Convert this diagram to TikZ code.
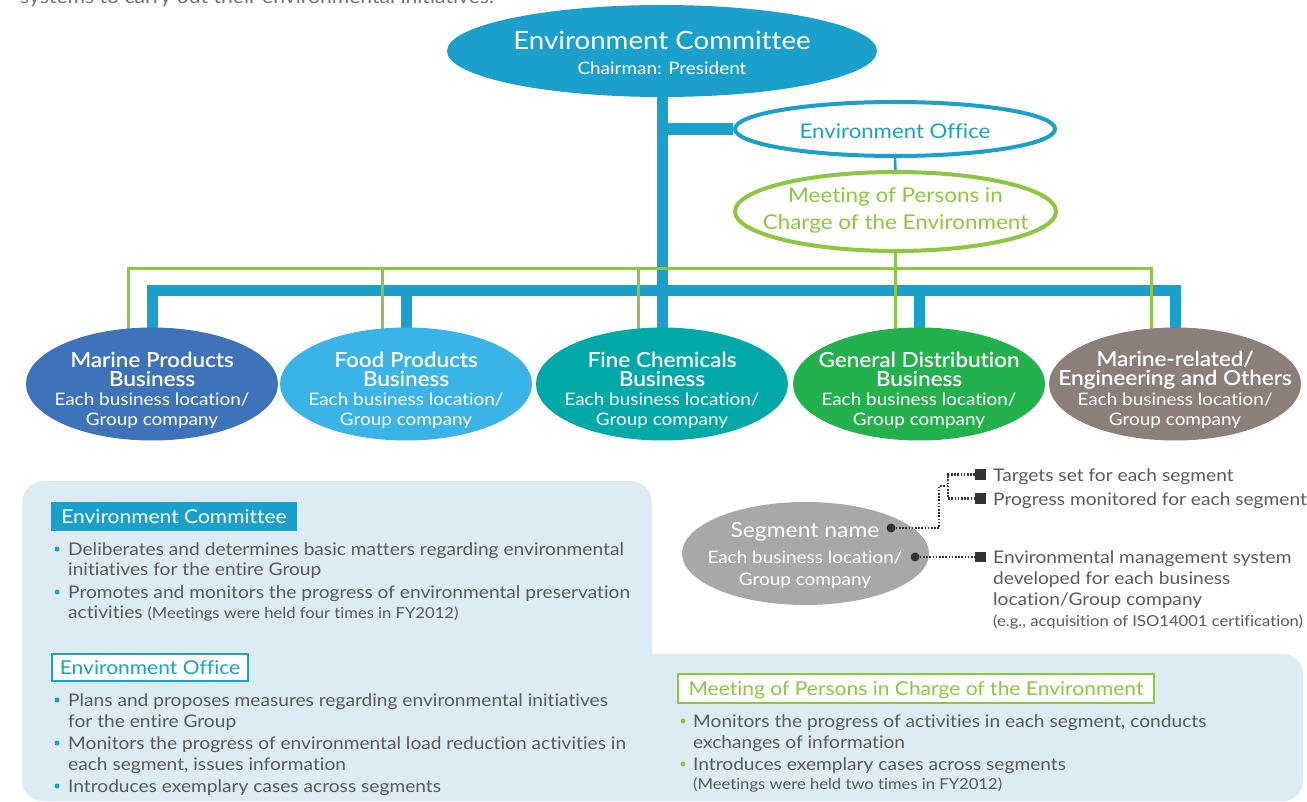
\documentclass[tikz,border=0pt]{standalone}
\usepackage{fontspec}
\setmainfont{Lato}[FakeStretch=1.1, Ligatures=NoCommon]
\newfontfamily\titlefont{Lato}[FakeStretch=1.1, FakeBold=0.6, Ligatures=NoCommon]
\usetikzlibrary{shapes.geometric}
\pgfdeclarelayer{bg}
\pgfsetlayers{bg,main}
\definecolor{cblue}{HTML}{1BA0CB}
\definecolor{cgreen}{HTML}{8DC63F}
\definecolor{cmarine}{HTML}{3F73B9}
\definecolor{cfood}{HTML}{3AB3E6}
\definecolor{cfine}{HTML}{00A9A7}
\definecolor{cgen}{HTML}{23B14D}
\definecolor{cmrel}{HTML}{8C7E79}
\definecolor{cseg}{HTML}{A7A8AA}
\definecolor{cpanel}{HTML}{DDEBF4}
\definecolor{ctxt}{HTML}{58595B}
\definecolor{cdot}{HTML}{333333}
\tikzset{
  fs/.style={font=\fontsize{#1}{#1}\selectfont},
  ln/.style={inner sep=0pt, text height=#1, text depth=0pt},
  biz/.style={ellipse, inner sep=0pt, minimum width=252pt, minimum height=113pt},
  bt/.style={ln=15.8pt, font=\titlefont\fontsize{20.5}{20.5}\selectfont, text=white},
  bs/.style={ln=13.4pt, fs=17.2, text=white},
  bbar/.style={cblue, line width=11pt, line join=miter},
  gline/.style={cgreen, line width=3pt, line join=miter},
  body/.style={ln=12.4pt, anchor=west, fs=17.4, text=ctxt},
  small/.style={ln=11pt, anchor=west, fs=15.1, text=ctxt},
  bul/.style={circle, inner sep=0pt, minimum size=5pt, fill=#1},
  hdr/.style={inner sep=0pt, minimum height=29pt, fs=19.1, text height=14.2pt, text depth=0pt},
  sqr/.style={rectangle, inner sep=0pt, minimum size=10.5pt, fill=cdot},
  ddot/.style={circle, inner sep=0pt, minimum size=9pt, fill=cdot},
  dotline/.style={cdot, line width=2.2pt, dash pattern=on 1.6pt off 1.6pt},
}
\begin{document}
\begin{tikzpicture}[x=1pt,y=-1pt]
\useasboundingbox (0,0) rectangle (1307,802);
% cut-off top line
\node[inner sep=0pt, fs=19.2, text=ctxt!85, anchor=base west] (toptext) at (20,4) {systems to carry out their environmental initiatives.};

% panel
\fill[cpanel, rounded corners=22pt] (22,481) rectangle (652,801);
\fill[cpanel, rounded corners=20pt] (22,654) rectangle (1303,801);

% top ellipses
\node[ellipse, fill=cblue, inner sep=0pt, minimum width=430pt, minimum height=92pt] (ec) at (662,51) {};
\node[ln=19.4pt, fs=25.2, text=white] (ect) at (662,40) {Environment Committee};
\node[ln=13.4pt, fs=17.2, text=white] (ecs) at (662,68) {Chairman: President};

\node[ellipse, draw=cblue, line width=4pt, fill=white, inner sep=0pt, minimum width=320pt, minimum height=54pt] (eo) at (895,129) {};
\node[ln=15.6pt, fs=20.2, text=cblue] (eot) at (895,131) {Environment Office};

\node[ellipse, draw=cgreen, line width=4pt, fill=white, inner sep=0pt, minimum width=321pt, minimum height=79pt] (mp) at (895.5,211.5) {};
\node[ln=15.8pt, fs=20.4, text=cgreen] (mpt1) at (895.5,195) {Meeting of Persons in};
\node[ln=15.8pt, fs=20.4, text=cgreen] (mpt2) at (895.5,222) {Charge of the Environment};

% business ellipses
\node[biz, fill=cmarine] (m1) at (152,384) {};
\node[biz, fill=cfood] (m2) at (406,384) {};
\node[biz, fill=cfine] (m3) at (662,384) {};
\node[biz, fill=cgen] (m4) at (919,384) {};
\node[biz, fill=cmrel] (m5) at (1175,384) {};

\node[bt] (m1a) at (152,359) {Marine Products};
\node[bt] (m1b) at (152,378) {Business};
\node[bs] (m1c) at (152,399) {Each business location/};
\node[bs] (m1d) at (152,419) {Group company};

\node[bt] (m2a) at (406,359) {Food Products};
\node[bt] (m2b) at (406,378) {Business};
\node[bs] (m2c) at (406,399) {Each business location/};
\node[bs] (m2d) at (406,419) {Group company};

\node[bt] (m3a) at (662,359) {Fine Chemicals};
\node[bt] (m3b) at (662,378) {Business};
\node[bs] (m3c) at (662,399) {Each business location/};
\node[bs] (m3d) at (662,419) {Group company};

\node[bt] (m4a) at (919,359) {General Distribution};
\node[bt] (m4b) at (919,378) {Business};
\node[bs] (m4c) at (919,399) {Each business location/};
\node[bs] (m4d) at (919,419) {Group company};

\node[bt] (m5a) at (1175,358) {Marine-related/};
\node[bt] (m5b) at (1175,377) {Engineering and Others};
\node[bs] (m5c) at (1175,399) {Each business location/};
\node[bs] (m5d) at (1175,419) {Group company};

% connectors
\coordinate (barY) at (0,291);
\coordinate (gY) at (0,269);
\coordinate (g1) at ([xshift=-24pt]m1.center);
\coordinate (g2) at ([xshift=-24pt]m2.center);
\coordinate (g3) at ([xshift=-24pt]m3.center);
\coordinate (g4) at ([xshift=-24pt]m4.center);
\coordinate (g5) at ([xshift=-24pt]m5.center);
\begin{pgfonlayer}{bg}
  \draw[bbar] (ec.south) -- (m3.center);
  \draw[bbar, line width=12pt] (ec.south |- eo.west) -- (eo.west);
  \draw[bbar] (m1.center) -- (m1.center |- barY) -- (m5.center |- barY) -- (m5.center);
  \draw[bbar] (m2.center |- barY) -- (m2.center);
  \draw[bbar] (m4.center |- barY) -- (m4.center);
  \draw[cblue, line width=2.5pt] (eo.south) -- (mp.north);
  \draw[gline] (mp.south) -- (mp.south |- gY);
  \draw[gline] (g1) -- (g1 |- gY) -- (g5 |- gY) -- (g5);
  \draw[gline] (g2 |- gY) -- (g2);
  \draw[gline] (g3 |- gY) -- (g3);
  \draw[gline] (g4 |- gY) -- (g4);
\end{pgfonlayer}

% legend
\node[ellipse, fill=cseg, inner sep=0pt, minimum width=247pt, minimum height=103pt] (seg) at (805.5,553.5) {};
\node[ln=16pt, fs=20.8, text=white] (segt) at (805,529) {Segment name};
\node[bs] (segc) at (805,557) {Each business location/};
\node[bs] (segd) at (805,579) {Group company};
\node[ddot] (d1) at (891,528) {};
\node[ddot] (d2) at (915,557) {};
\node[sqr] (s1) at (980.5,474.5) {};
\node[sqr] (s2) at (980.5,498.5) {};
\node[sqr] (s3) at (980.5,557) {};
\coordinate (br) at (948,486);
\draw[dotline] (d1) -- (939,528) |- (br);
\draw[dotline] (s1.west) -| (br) |- (s2.west);
\draw[dotline] (d2) -- (s3.west);
\node[body] (l1) at (993,475) {Targets set for each segment};
\node[body] (l2) at (993,499) {Progress monitored for each segment};
\node[body] (l3) at (993,557) {Environmental management system};
\node[body] (l4) at (993,578) {developed for each business};
\node[body] (l5) at (993,599) {location/Group company};
\node[small] (l6) at (993,621) {(e.g., acquisition of ISO14001 certification)};

% Environment Committee section
\node[hdr, fill=cblue, text=white, minimum width=246pt] (hec) at (174,516.5) {Environment Committee};
\node[bul=cblue] (b1) at (57,549) {};
\node[body] (t1) at (68,549) {Deliberates and determines basic matters regarding environmental};
\node[body] (t2) at (68,569) {initiatives for the entire Group};
\node[bul=cblue] (b2) at (57,592) {};
\node[body] (t3) at (68,592) {Promotes and monitors the progress of environmental preservation};
\node[body] (t4) at (68,612) {activities {\fontsize{15.1}{15.1}\selectfont(Meetings were held four times in FY2012)}};

% Environment Office section
\node[hdr, draw=cblue, line width=1.8pt, fill=white, text=cblue, minimum width=196pt, minimum height=27pt] (heo) at (150,667.5) {Environment Office};
\node[bul=cblue] (b3) at (57,700) {};
\node[body] (t5) at (68,700) {Plans and proposes measures regarding environmental initiatives};
\node[body] (t6) at (68,721) {for the entire Group};
\node[bul=cblue] (b4) at (57,743) {};
\node[body] (t7) at (68,743) {Monitors the progress of environmental load reduction activities in};
\node[body] (t8) at (68,764) {each segment, issues information};
\node[bul=cblue] (b5) at (57,786) {};
\node[body] (t9) at (68,786) {Introduces exemplary cases across segments};

% Meeting section
\node[hdr, draw=cgreen, line width=1.8pt, fill=white, text=cgreen, minimum width=476pt, minimum height=29pt] (hmp) at (916,688.5) {Meeting of Persons in Charge of the Environment};
\node[bul=cgreen] (b6) at (683,721) {};
\node[body] (u1) at (693,721) {Monitors the progress of activities in each segment, conducts};
\node[body] (u2) at (693,742) {exchanges of information};
\node[bul=cgreen] (b7) at (683,764) {};
\node[body] (u3) at (693,764) {Introduces exemplary cases across segments};
\node[small] (u4) at (693,784) {(Meetings were held two times in FY2012)};
\end{tikzpicture}
\end{document}
